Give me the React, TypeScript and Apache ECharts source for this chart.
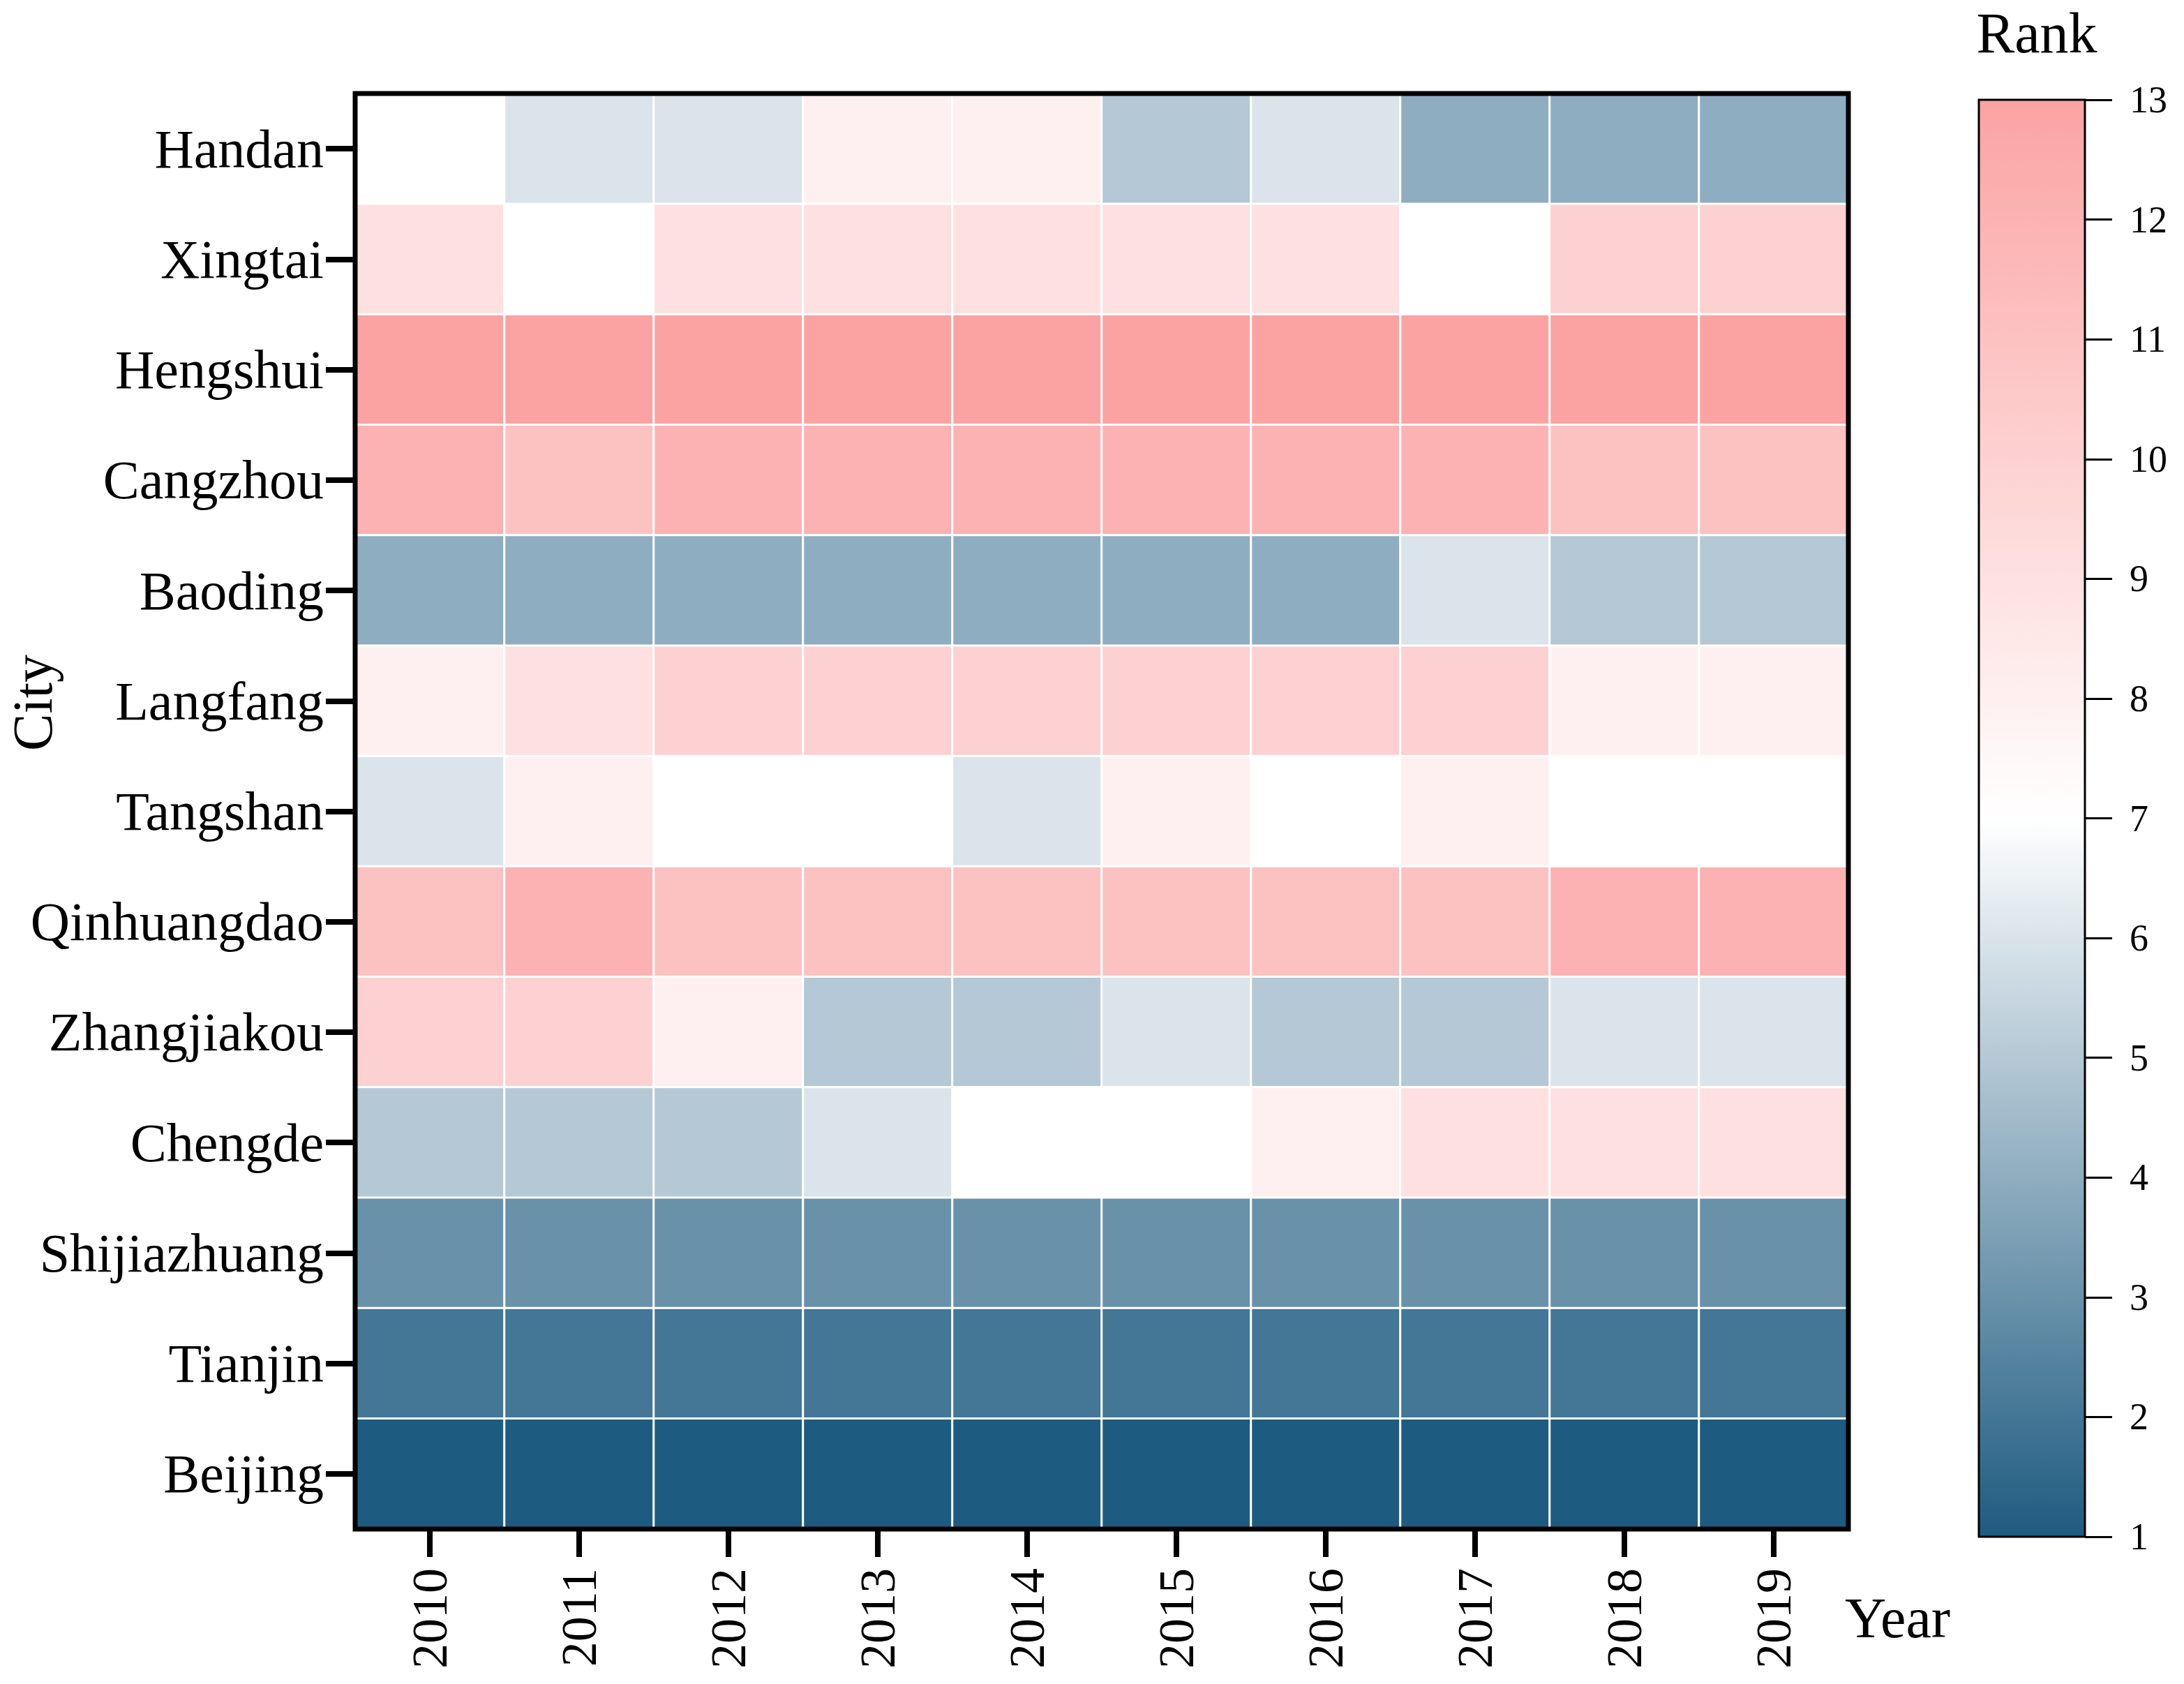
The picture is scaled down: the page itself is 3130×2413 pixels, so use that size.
import React, { useEffect, useRef } from "react";
import * as echarts from "echarts";

const years = ["2010", "2011", "2012", "2013", "2014", "2015", "2016", "2017", "2018", "2019"];
const cities = [
  "Handan", "Xingtai", "Hengshui", "Cangzhou", "Baoding", "Langfang", "Tangshan",
  "Qinhuangdao", "Zhangjiakou", "Chengde", "Shijiazhuang", "Tianjin", "Beijing",
];

const handan = [7, 6, 6, 8, 8, 5, 6, 4, 4, 4];
const xingtai = [9, 7, 9, 9, 9, 9, 9, 7, 10, 10];
const hengshui = [13, 13, 13, 13, 13, 13, 13, 13, 13, 13];
const cangzhou = [12, 11, 12, 12, 12, 12, 12, 12, 11, 11];
const baoding = [4, 4, 4, 4, 4, 4, 4, 6, 5, 5];
const langfang = [8, 9, 10, 10, 10, 10, 10, 10, 8, 8];
const tangshan = [6, 8, 7, 7, 6, 8, 7, 8, 7, 7];
const qinhuangdao = [11, 12, 11, 11, 11, 11, 11, 11, 12, 12];
const zhangjiakou = [10, 10, 8, 5, 5, 6, 5, 5, 6, 6];
const chengde = [5, 5, 5, 6, 7, 7, 8, 9, 9, 9];
const shijiazhuang = [3, 3, 3, 3, 3, 3, 3, 3, 3, 3];
const tianjin = [2, 2, 2, 2, 2, 2, 2, 2, 2, 2];
const beijing = [1, 1, 1, 1, 1, 1, 1, 1, 1, 1];

const rankRows = [
  handan, xingtai, hengshui, cangzhou, baoding, langfang, tangshan,
  qinhuangdao, zhangjiakou, chengde, shijiazhuang, tianjin, beijing,
];

const rankMin = 1;
const rankMax = 13;

const LOW = "#1E5B80";
const MID = "#FFFFFF";
const HIGH = "#FBA3A3";
const FONT = "Liberation Serif";

export default function App() {
  const ref = useRef<HTMLDivElement>(null);

  useEffect(() => {
    document.body.style.margin = "0";
    const chart = echarts.init(ref.current!, null, { renderer: "svg" });

    const heatData: number[][] = [];
    rankRows.forEach((row, ci) => {
      row.forEach((v, yi) => heatData.push([yi, ci, v]));
    });

    const option: any = {
      animation: false,
      backgroundColor: "#ffffff",
      textStyle: { fontFamily: FONT, color: "#000" },
      grid: [
        {
          left: 509, right: 481, top: 134, bottom: 222,
          show: true, borderColor: "#000", borderWidth: 7, backgroundColor: "transparent", z: 10,
        },
        {
          left: 2836, right: 142, top: 143, bottom: 211,
          show: true, borderColor: "#000", borderWidth: 3, backgroundColor: "transparent", z: 10,
        },
      ],
      xAxis: [
        {
          type: "category", gridIndex: 0, data: years,
          axisLine: { show: false },
          axisTick: { show: true, alignWithLabel: true, length: 40, lineStyle: { color: "#000", width: 8 } },
          axisLabel: { rotate: 90, margin: 56, fontSize: 72, color: "#000", fontFamily: FONT },
          splitLine: { show: false },
        },
        {
          type: "category", gridIndex: 1, data: [""],
          axisLine: { show: false }, axisTick: { show: false }, axisLabel: { show: false },
        },
      ],
      yAxis: [
        {
          type: "category", gridIndex: 0, data: cities, inverse: true,
          axisLine: { show: false },
          axisTick: { show: true, alignWithLabel: true, length: 42, lineStyle: { color: "#000", width: 8 } },
          axisLabel: { margin: 45, fontSize: 78, color: "#000", fontFamily: FONT },
          splitLine: { show: false },
        },
        {
          type: "value", gridIndex: 1, position: "right", min: rankMin, max: rankMax, interval: 1,
          axisLine: { show: false },
          axisTick: { show: true, length: 39, lineStyle: { color: "#000", width: 3 } },
          axisLabel: { margin: 64, fontSize: 54, color: "#000", fontFamily: FONT },
          splitLine: { show: false },
        },
      ],
      visualMap: {
        show: false, type: "continuous", seriesIndex: 0, dimension: 2,
        min: rankMin, max: rankMax, inRange: { color: [LOW, MID, HIGH] },
      },
      series: [
        {
          type: "heatmap", xAxisIndex: 0, yAxisIndex: 0, data: heatData,
          itemStyle: { borderColor: "#ffffff", borderWidth: 3 },
          label: { show: false },
        },
        {
          type: "custom", xAxisIndex: 1, yAxisIndex: 1, data: [[0, rankMax]],
          renderItem: (params: any, api: any) => {
            const top = api.coord([0, rankMax]);
            const bot = api.coord([0, rankMin]);
            const w = api.size([1, 0])[0];
            return {
              type: "rect",
              shape: { x: top[0] - w / 2, y: top[1], width: w, height: bot[1] - top[1] },
              style: {
                fill: new echarts.graphic.LinearGradient(0, 0, 0, 1, [
                  { offset: 0, color: HIGH },
                  { offset: 0.5, color: MID },
                  { offset: 1, color: LOW },
                ]),
              },
            };
          },
        },
      ],
      graphic: [
        {
          type: "text", x: 47, y: 1007, rotation: Math.PI / 2,
          style: { text: "City", font: `80px "${FONT}"`, fill: "#000", textAlign: "center", textVerticalAlign: "middle" },
        },
        {
          type: "text", x: 2644, y: 2318,
          style: { text: "Year", font: `82px "${FONT}"`, fill: "#000", textAlign: "left", textVerticalAlign: "middle" },
        },
        {
          type: "text", x: 2919, y: 47,
          style: { text: "Rank", font: `82px "${FONT}"`, fill: "#000", textAlign: "center", textVerticalAlign: "middle" },
        },
      ],
    };

    chart.setOption(option);
    return () => chart.dispose();
  }, []);

  return <div ref={ref} style={{ width: 3130, height: 2413 }} />;
}
